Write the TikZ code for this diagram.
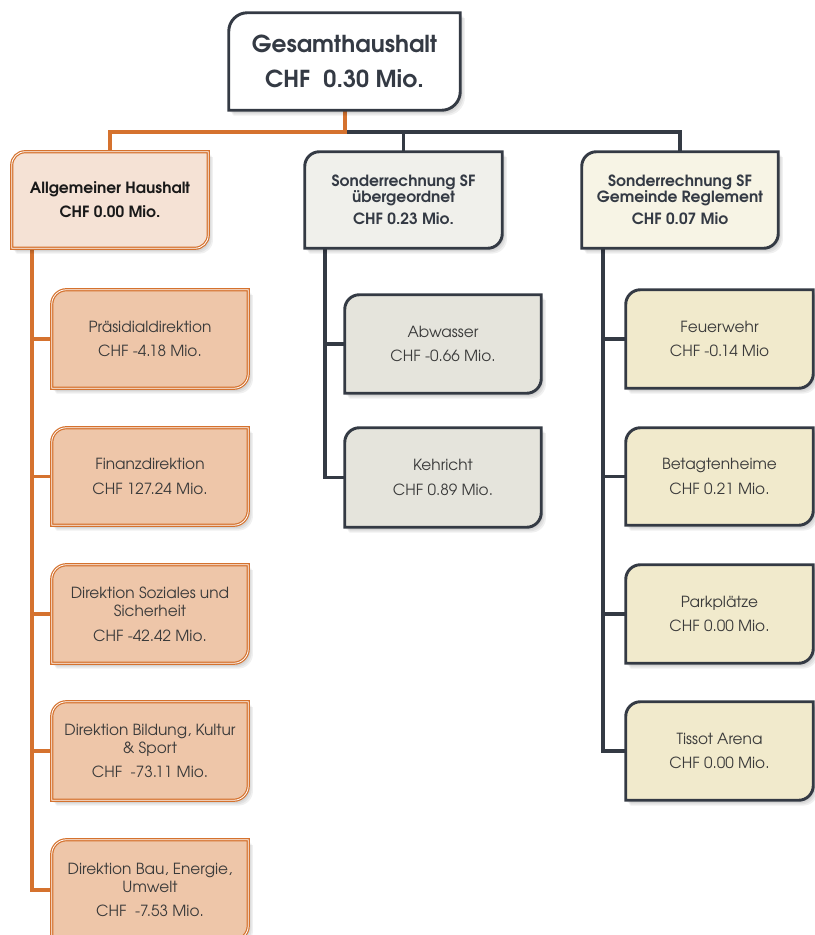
\documentclass[tikz,border=0pt]{standalone}
\usepackage{fontspec}
\setmainfont{TeX Gyre Adventor}
\usetikzlibrary{backgrounds}
\definecolor{dark}{HTML}{343A44}
\definecolor{orng}{HTML}{D5722E}
\definecolor{lfill}{HTML}{F5E2D5}
\definecolor{lcfill}{HTML}{EEC6A9}
\definecolor{mfill}{HTML}{F0F0EB}
\definecolor{mcfill}{HTML}{E5E4DC}
\definecolor{rfill}{HTML}{F7F4E5}
\definecolor{rcfill}{HTML}{F1EACC}
\definecolor{txt}{HTML}{3A3A3A}
\newcommand\cbpath[4]{([xshift=#3,yshift=#4]#1.south west) -- ([xshift=#3,yshift=#4-#2]#1.north west) arc[start angle=180,end angle=90,radius=#2] -- ([xshift=#3,yshift=#4]#1.north east) -- ([xshift=#3,yshift=#4+#2]#1.south east) arc[start angle=0,end angle=-90,radius=#2] -- cycle}
\newcommand\cbbox[3]{%
  \fill[black,opacity=.06] \cbpath{#1}{#2}{1.5pt}{-2pt};
  \fill[black,opacity=.06] \cbpath{#1}{#2}{2.5pt}{-3pt};
  \fill[black,opacity=.06] \cbpath{#1}{#2}{3.5pt}{-4pt};
  \path[#3] \cbpath{#1}{#2}{0pt}{0pt};}
\newcommand\mknode[7]{\node[#6, minimum width={(#4-#2)*0.75pt}, minimum height={(#5-#3)*0.75pt}] (#1) at ({(#2+#4)/2},{(#3+#5)/2}) {#7};}
\begin{document}
\begin{tikzpicture}[x=0.75pt,y=-0.75pt,
  bx/.style={inner sep=0pt, align=center},
  topbox/.style={bx, font=\fontsize{17.5}{26}\selectfont\bfseries, text=dark},
  lhead/.style={bx, font=\fontsize{11.6}{18}\selectfont\bfseries, text=black!90},
  mhead/.style={bx, font=\fontsize{11.6}{12}\selectfont\bfseries, text=dark},
  child/.style={bx, font=\fontsize{11.5}{13.5}\selectfont, text=txt},
  darkline/.style={draw=dark, line width=2.2pt},
  orngbox/.style={draw=orng, line width=0.9pt, double=white, double distance=0.6pt},
  linkdark/.style={draw=dark, line width=2.4pt, line join=miter},
  linkorng/.style={draw=orng, line width=2.4pt, line join=miter}]
\useasboundingbox (0,0) rectangle (814,935);
\clip (0,0) rectangle (814,935);
% nodes
\mknode{top}{229}{13}{460}{110}{topbox}{Gesamthaushalt\\CHF\ \ 0.30 Mio.}
\mknode{L}{12}{152}{208}{248}{lhead}{Allgemeiner Haushalt\\CHF 0.00 Mio.}
\mknode{M}{305}{152}{502}{248}{mhead}{Sonderrechnung SF\\übergeordnet\\[4.5pt]CHF 0.23 Mio.}
\mknode{R}{582}{152}{778}{248}{mhead}{Sonderrechnung SF\\Gemeinde Reglement\\[4.5pt]CHF 0.07 Mio}
\mknode{L1}{52}{290}{248}{388}{child}{Präsidialdirektion\\[5pt]CHF -4.18 Mio.}
\mknode{L2}{52}{428}{248}{525}{child}{Finanzdirektion\\[5pt]CHF 127.24 Mio.}
\mknode{L3}{52}{565}{248}{663}{child}{Direktion Soziales und\\Sicherheit\\[5pt]CHF -42.42 Mio.}
\mknode{L4}{52}{702}{248}{800}{child}{Direktion Bildung, Kultur\\\& Sport\\[5pt]CHF\ \ -73.11 Mio.}
\mknode{L5}{52}{840}{248}{940}{child}{Direktion Bau, Energie,\\Umwelt\\[5pt]CHF\ \ -7.53 Mio.}
\mknode{M1}{345}{295}{541}{393}{child}{Abwasser\\[5pt]CHF -0.66 Mio.}
\mknode{M2}{345}{428}{541}{527}{child}{Kehricht\\[5pt]CHF 0.89 Mio.}
\mknode{R1}{626}{290}{813}{388}{child}{Feuerwehr\\[5pt]CHF -0.14 Mio}
\mknode{R2}{626}{428}{813}{525}{child}{Betagtenheime\\[5pt]CHF 0.21 Mio.}
\mknode{R3}{626}{565}{813}{663}{child}{Parkplätze\\[5pt]CHF 0.00 Mio.}
\mknode{R4}{626}{702}{813}{800}{child}{Tissot Arena\\[5pt]CHF 0.00 Mio.}
\coordinate (J) at (345,132);
\coordinate (Lv) at (32,0);
\coordinate (Mv) at (325,0);
\coordinate (Rv) at (603,0);
\begin{scope}[on background layer]
  % connectors
  \draw[linkdark] (J) -| (M.north);
  \draw[linkdark] (J) -| (R.north);
  \draw[linkorng] (top.south -| J) -- (J) -| (L.north);
  \draw[linkorng] (L.south -| Lv) |- (L5.west);
  \foreach \c in {L1,L2,L3,L4} {\draw[linkorng] (\c.west -| Lv) -- (\c.west);}
  \draw[linkdark] (M.south -| Mv) |- (M2.west);
  \draw[linkdark] (M1.west -| Mv) -- (M1.west);
  \draw[linkdark] (R.south -| Rv) |- (R4.west);
  \foreach \c in {R1,R2,R3} {\draw[linkdark] (\c.west -| Rv) -- (\c.west);}
  % boxes
  \cbbox{top}{14pt}{fill=white, darkline}
  \cbbox{L}{10pt}{fill=lfill, orngbox}
  \cbbox{M}{11pt}{fill=mfill, darkline}
  \cbbox{R}{11pt}{fill=rfill, darkline}
  \foreach \c in {L1,L2,L3,L4,L5} {\cbbox{\c}{11pt}{fill=lcfill, orngbox}}
  \foreach \c in {M1,M2} {\cbbox{\c}{11pt}{fill=mcfill, darkline}}
  \foreach \c in {R1,R2,R3,R4} {\cbbox{\c}{11pt}{fill=rcfill, darkline}}
\end{scope}
\end{tikzpicture}
\end{document}
